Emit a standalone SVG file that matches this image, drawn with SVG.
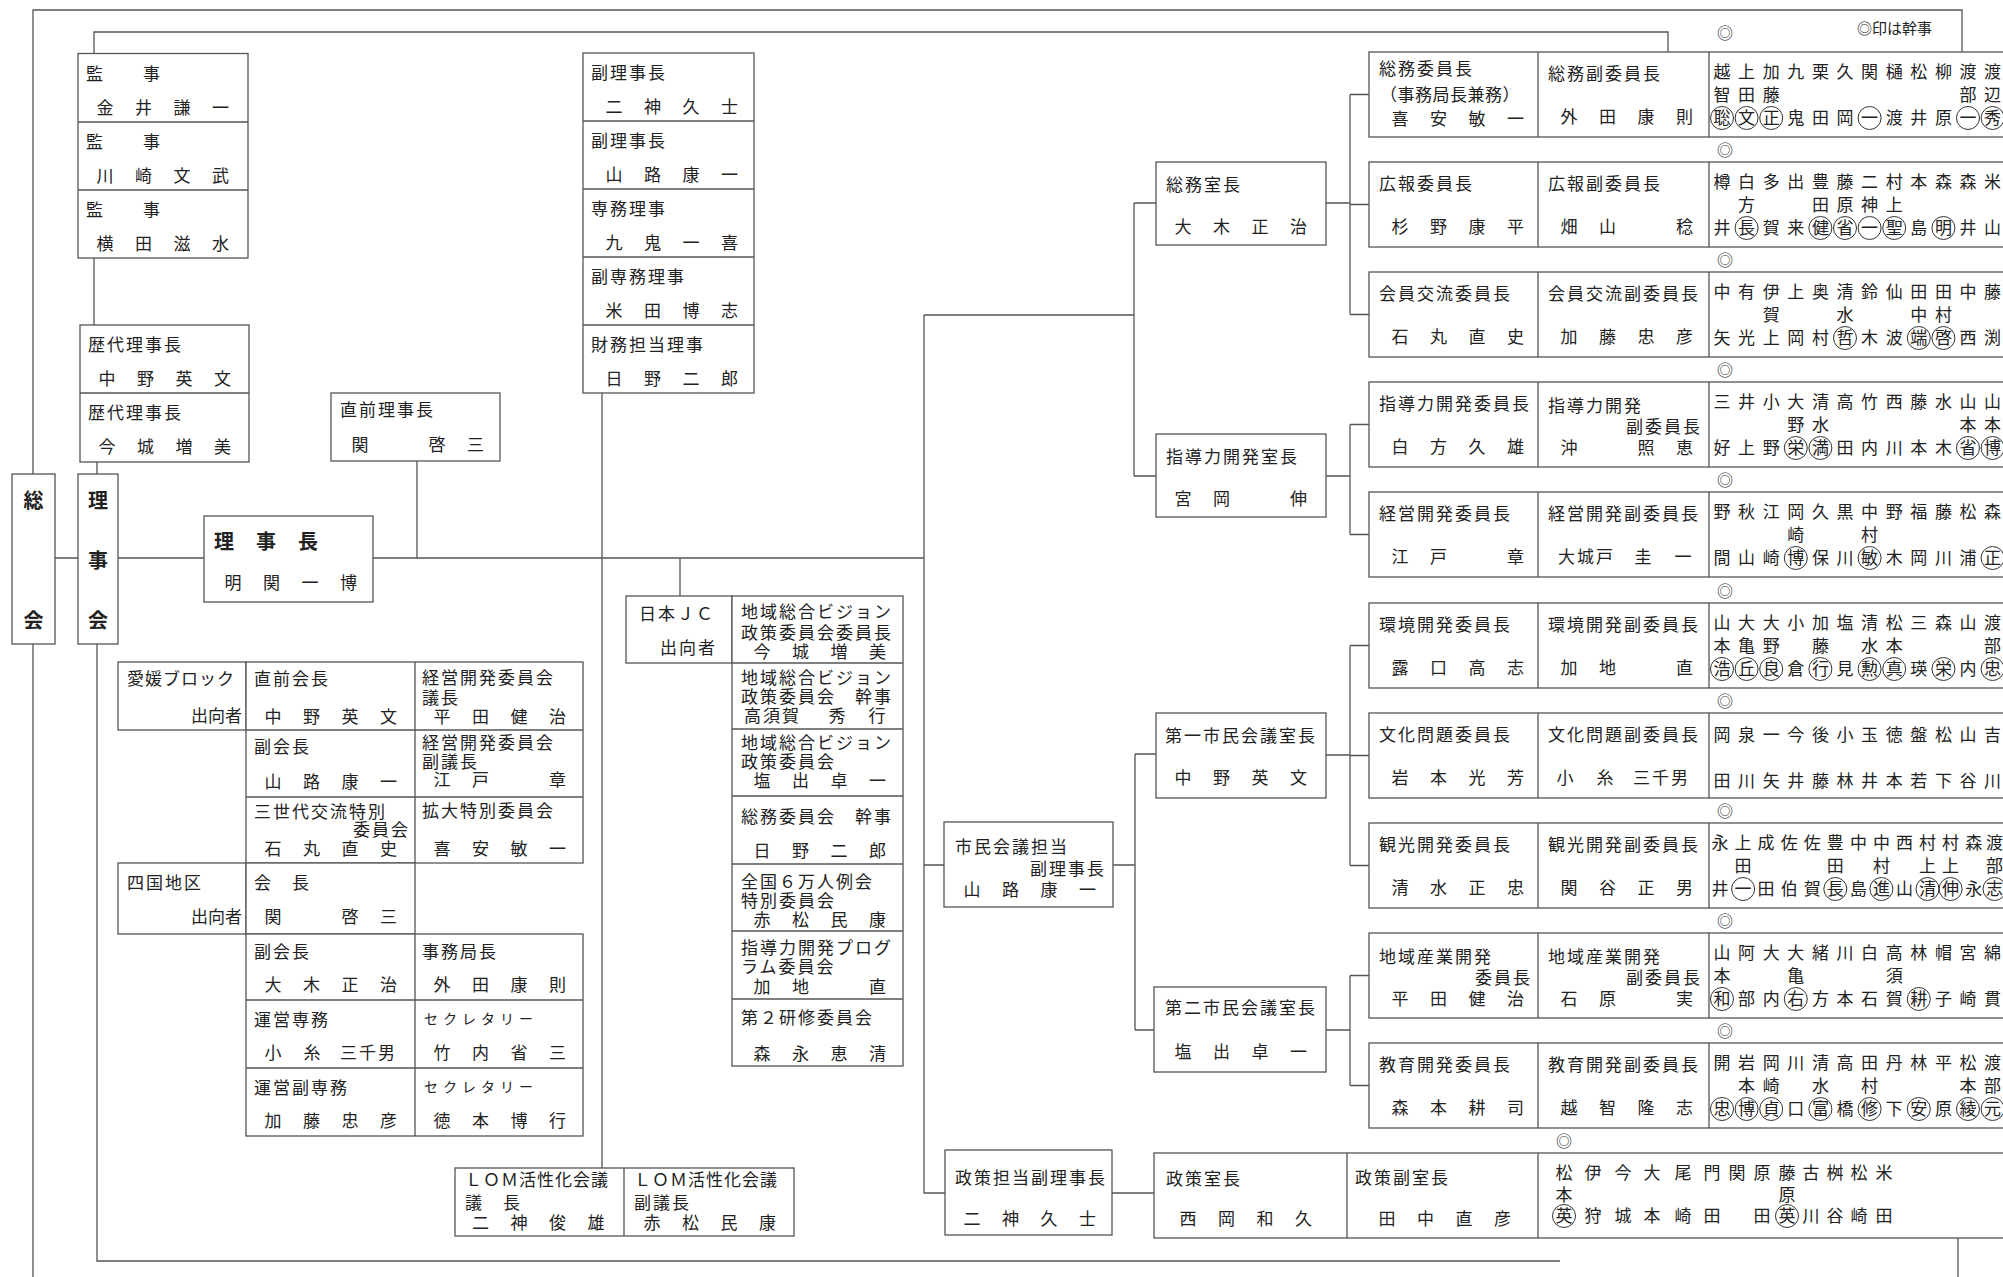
<svg xmlns="http://www.w3.org/2000/svg" xmlns:xlink="http://www.w3.org/1999/xlink" width="2003" height="1277" viewBox="0 0 2003 1277">
<style>
text{font-family:"Noto Sans CJK JP","Noto Sans CJK SC",sans-serif;font-size:17px;fill:#222}
.box{fill:#fff;stroke:#555;stroke-width:1.3}
.ln{fill:none;stroke:#555;stroke-width:1.3}
.lb{letter-spacing:2px}
.nm{letter-spacing:21.5px}
.big{font-size:20px;font-weight:bold}
.sm{font-size:14px;letter-spacing:5px}
.cir{fill:none;stroke:#333;stroke-width:1}
.mk{font-size:16px;text-anchor:middle}
.end{text-anchor:end}
</style>
<defs>
<ellipse id="c" cx="0" cy="0" rx="11.5" ry="11.5" class="cir"/>
</defs>
<rect width="2003" height="1277" fill="#fff"/>

<g id="connectors">
<path class="ln" d="M33 474V10H1962V52"/>
<path class="ln" d="M33 644V1277"/>
<path class="ln" d="M94 53.5V32H1668V52"/>
<path class="ln" d="M94 258V325"/>
<path class="ln" d="M97 462V474"/>
<path class="ln" d="M97 644V1261H1560"/>
<path class="ln" d="M55 558H78M118 558H204M373 558H924"/>
<path class="ln" d="M417 461V558"/>
<path class="ln" d="M602 393V1168"/>
<path class="ln" d="M680 558V596"/>
<path class="ln" d="M924 315V1193H945M924 865H944M924 315H1134"/>
<path class="ln" d="M1134 203V476M1134 203H1156M1134 476H1156"/>
<path class="ln" d="M1113 865H1135M1135 754V1030M1135 754H1156M1135 1030H1154"/>
<path class="ln" d="M1112 1193H1154"/>
<path class="ln" d="M1326 203H1350M1350 94.5V314.5M1350 94.5H1369M1350 204.5H1369M1350 314.5H1369"/>
<path class="ln" d="M1326 476H1350M1350 424.5V534.5M1350 424.5H1369M1350 534.5H1369"/>
<path class="ln" d="M1326 755H1350M1350 645.5V865.5M1350 645.5H1369M1350 755.5H1369M1350 865.5H1369"/>
<path class="ln" d="M1326 1030H1350M1350 975.5V1085.5M1350 975.5H1369M1350 1085.5H1369"/>
<path class="ln" d="M1958 1238V1277"/>
</g>

<g id="kanji">
<rect class="box" x="78" y="53.5" width="170" height="204.5"/>
<path class="ln" d="M78 122H248M78 190H248"/>
<text class="lb" x="86" y="79.5">監　　事</text>
<text class="nm" x="96.5" y="113.5">金井謙一</text>
<text class="lb" x="86" y="148">監　　事</text>
<text class="nm" x="96.5" y="182">川崎文武</text>
<text class="lb" x="86" y="216">監　　事</text>
<text class="nm" x="96.5" y="250">横田滋水</text>
</g>

<g id="rekidai">
<rect class="box" x="80" y="325" width="169" height="137"/>
<path class="ln" d="M80 393H249"/>
<text class="lb" x="88" y="351">歴代理事長</text>
<text class="nm" x="98.5" y="385">中野英文</text>
<text class="lb" x="88" y="419">歴代理事長</text>
<text class="nm" x="98.5" y="453">今城増美</text>
</g>

<g id="chokuzen">
<rect class="box" x="331" y="393" width="169" height="68"/>
<text class="lb" x="340" y="416">直前理事長</text>
<text class="nm" x="351.5" y="451">関　啓三</text>
</g>

<g id="sokai">
<rect class="box" x="12" y="474" width="43" height="170"/>
<text class="big" x="33.5" y="508" text-anchor="middle">総</text>
<text class="big" x="33.5" y="628" text-anchor="middle">会</text>
</g>

<g id="rijikai">
<rect class="box" x="78" y="474" width="40" height="170"/>
<text class="big" x="98" y="508" text-anchor="middle">理</text>
<text class="big" x="98" y="568" text-anchor="middle">事</text>
<text class="big" x="98" y="628" text-anchor="middle">会</text>
</g>

<g id="rijicho">
<rect class="box" x="204" y="516" width="169" height="86"/>
<text class="big" x="214 256 298" y="549">理事長</text>
<text class="nm" x="224.5" y="589">明関一博</text>
</g>

<g id="fukuriji">
<rect class="box" x="583" y="53" width="171" height="340"/>
<path class="ln" d="M583 121H754M583 189H754M583 257H754M583 325H754"/>
<text class="lb" x="591" y="79">副理事長</text>
<text class="nm" x="605.5" y="113">二神久士</text>
<text class="lb" x="591" y="147">副理事長</text>
<text class="nm" x="605.5" y="181">山路康一</text>
<text class="lb" x="591" y="215">専務理事</text>
<text class="nm" x="605.5" y="249">九鬼一喜</text>
<text class="lb" x="591" y="283">副専務理事</text>
<text class="nm" x="605.5" y="317">米田博志</text>
<text class="lb" x="591" y="351">財務担当理事</text>
<text class="nm" x="605.5" y="385">日野二郎</text>
</g>

<g id="nihonjc">
<rect class="box" x="626" y="596" width="106" height="67"/>
<text class="lb" x="639" y="620">日本ＪＣ</text>
<text class="lb" x="660" y="654">出向者</text>
<rect class="box" x="732" y="596" width="171" height="470"/>
<path class="ln" d="M732 663H903M732 729H903M732 796H903M732 864H903M732 931H903M732 999H903"/>
<text class="lb" x="741" y="618">地域総合ビジョン</text>
<text class="lb" x="741" y="639">政策委員会委員長</text>
<text class="nm" x="753.5" y="658">今城増美</text>
<text class="lb" x="741" y="684">地域総合ビジョン</text>
<text class="lb" x="741" y="703">政策委員会　幹事</text>
<text y="722"><tspan class="lb" x="744">高須賀</tspan><tspan x="828.5">秀</tspan><tspan x="868.5">行</tspan></text>
<text class="lb" x="741" y="749">地域総合ビジョン</text>
<text class="lb" x="741" y="768">政策委員会</text>
<text class="nm" x="753.5" y="787">塩出卓一</text>
<text class="lb" x="741" y="823">総務委員会　幹事</text>
<text class="nm" x="753.5" y="857">日野二郎</text>
<text class="lb" x="741" y="888">全国６万人例会</text>
<text class="lb" x="741" y="907">特別委員会</text>
<text class="nm" x="753.5" y="926">赤松民康</text>
<text class="lb" x="741" y="954">指導力開発プログ</text>
<text class="lb" x="741" y="973">ラム委員会</text>
<text class="nm" x="753.5" y="993">加地　直</text>
<text class="lb" x="741" y="1024">第２研修委員会</text>
<text class="nm" x="753.5" y="1060">森永恵清</text>
</g>

<g id="ehime">
<rect class="box" x="118" y="662" width="128" height="68"/>
<rect class="box" x="246" y="662" width="337" height="201"/>
<path class="ln" d="M415 662V863M246 730H583M246 797H583"/>
<rect class="box" x="118" y="863" width="128" height="71"/>
<rect class="box" x="246" y="863" width="169" height="71"/>
<rect class="box" x="246" y="934" width="337" height="202"/>
<path class="ln" d="M415 934V1136M246 1000H583M246 1068H583"/>
<text style="letter-spacing:1px" x="127" y="685">愛媛ブロック</text>
<text class="end" x="242" y="722">出向者</text>
<text class="lb" x="254" y="685">直前会長</text>
<text class="nm" x="264.5" y="723">中野英文</text>
<text class="lb" x="422" y="684">経営開発委員会</text>
<text class="lb" x="422" y="704">議長</text>
<text class="nm" x="433.5" y="723">平田健治</text>
<text class="lb" x="254" y="753">副会長</text>
<text class="nm" x="264.5" y="788">山路康一</text>
<text class="lb" x="422" y="749">経営開発委員会</text>
<text class="lb" x="422" y="768">副議長</text>
<text class="nm" x="433.5" y="786">江戸　章</text>
<text class="lb" x="254" y="818">三世代交流特別</text>
<text x="353 372 391" y="836">委員会</text>
<text class="nm" x="264.5" y="855">石丸直史</text>
<text class="lb" x="422" y="817">拡大特別委員会</text>
<text class="nm" x="433.5" y="855">喜安敏一</text>
<text class="lb" x="127" y="889">四国地区</text>
<text class="end" x="242" y="923">出向者</text>
<text class="lb" x="254" y="889">会　長</text>
<text class="nm" x="264.5" y="923">関　啓三</text>
<text class="lb" x="254" y="958">副会長</text>
<text class="nm" x="264.5" y="991">大木正治</text>
<text class="lb" x="422" y="958">事務局長</text>
<text class="nm" x="433.5" y="991">外田康則</text>
<text class="lb" x="254" y="1026">運営専務</text>
<text y="1059"><tspan x="264.5">小</tspan><tspan x="303.5">糸</tspan><tspan class="lb" x="340">三千男</tspan></text>
<text class="sm" x="424" y="1024">セクレタリー</text>
<text class="nm" x="433.5" y="1059">竹内省三</text>
<text class="lb" x="254" y="1094">運営副専務</text>
<text class="nm" x="264.5" y="1127">加藤忠彦</text>
<text class="sm" x="424" y="1092">セクレタリー</text>
<text class="nm" x="433.5" y="1127">徳本博行</text>
</g>

<g id="lom">
<rect class="box" x="455" y="1168" width="339" height="68"/>
<path class="ln" d="M624 1168V1236"/>
<text style="letter-spacing:1px" x="465" y="1186">ＬＯＭ活性化会議</text>
<text class="lb" x="465" y="1209">議　長</text>
<text class="nm" x="472" y="1229">二神俊雄</text>
<text style="letter-spacing:1px" x="634" y="1186">ＬＯＭ活性化会議</text>
<text class="lb" x="634" y="1209">副議長</text>
<text class="nm" x="643.5" y="1229">赤松民康</text>
</g>

<g id="shimin-fuku">
<rect class="box" x="944" y="822" width="169" height="85"/>
<text class="lb" x="955" y="853">市民会議担当</text>
<text x="1030 1049 1068 1087" y="875">副理事長</text>
<text class="nm" x="963.5" y="896">山路康一</text>
</g>

<g id="seisaku-fuku">
<rect class="box" x="945" y="1150" width="167" height="85"/>
<text class="lb" x="955" y="1184">政策担当副理事長</text>
<text class="nm" x="963.5" y="1225">二神久士</text>
</g>

<g id="somu-shitsu">
<rect class="box" x="1156" y="162" width="170" height="83"/>
<text class="lb" x="1166" y="191">総務室長</text>
<text class="nm" x="1174.5" y="233">大木正治</text>
</g>

<g id="shido-shitsu">
<rect class="box" x="1156" y="434" width="170" height="83"/>
<text class="lb" x="1166" y="463">指導力開発室長</text>
<text class="nm" x="1174.5" y="505">宮岡　伸</text>
</g>

<g id="daiichi">
<rect class="box" x="1156" y="713" width="170" height="85"/>
<text class="lb" x="1165" y="742">第一市民会議室長</text>
<text class="nm" x="1174.5" y="784">中野英文</text>
</g>

<g id="daini">
<rect class="box" x="1154" y="987" width="172" height="85"/>
<text class="lb" x="1165" y="1014">第二市民会議室長</text>
<text class="nm" x="1174.5" y="1058">塩出卓一</text>
</g>

<g id="note">
<text x="1857" y="34" style="font-size:15px">◎印は幹事</text>
</g>

<g id="iinkai-somu">
<rect class="box" x="1369" y="52" width="650" height="85"/>
<path class="ln" d="M1538 52V137M1709 52V137"/>
<text class="lb" x="1379" y="75">総務委員長</text>
<text style="letter-spacing:0.5px" x="1380" y="101">（事務局長兼務）</text>
<text class="nm" x="1391.5" y="125">喜安敏一</text>
<text class="lb" x="1548" y="80">総務副委員長</text>
<text class="nm" x="1560.5" y="123">外田康則</text>
<text class="mk" x="1725" y="39">◎</text>
<text x="1713.5 1738.1 1762.7 1787.3 1811.9 1836.5 1861.1 1885.7 1910.3 1934.9 1959.5 1984.1" y="78">越上加九栗久関樋松柳渡渡</text>
<text x="1713.5 1738.1 1762.7 1959.5 1984.1" y="101">智田藤部辺</text>
<text x="1713.5 1738.1 1762.7 1787.3 1811.9 1836.5 1861.1 1885.7 1910.3 1934.9 1959.5 1984.1" y="124">聡文正鬼田岡一渡井原一秀</text>
<use href="#c" x="1722" y="118"/><use href="#c" x="1746.6" y="118"/><use href="#c" x="1771.2" y="118"/><use href="#c" x="1869.6" y="118"/><use href="#c" x="1968" y="118"/><use href="#c" x="1992.6" y="118"/>
</g>

<g id="iinkai-koho">
<rect class="box" x="1369" y="162" width="650" height="85"/>
<path class="ln" d="M1538 162V247M1709 162V247"/>
<text class="lb" x="1379" y="190">広報委員長</text>
<text class="nm" x="1391.5" y="233">杉野康平</text>
<text class="lb" x="1548" y="190">広報副委員長</text>
<text class="nm" x="1560.5" y="233">畑山　稔</text>
<text class="mk" x="1725" y="156">◎</text>
<text x="1713.5 1738.1 1762.7 1787.3 1811.9 1836.5 1861.1 1885.7 1910.3 1934.9 1959.5 1984.1" y="188">樽白多出豊藤二村本森森米</text>
<text x="1738.1 1811.9 1836.5 1861.1 1885.7" y="211">方田原神上</text>
<text x="1713.5 1738.1 1762.7 1787.3 1811.9 1836.5 1861.1 1885.7 1910.3 1934.9 1959.5 1984.1" y="234">井長賀来健省一聖島明井山</text>
<use href="#c" x="1746.6" y="228"/><use href="#c" x="1820.4" y="228"/><use href="#c" x="1845" y="228"/><use href="#c" x="1869.6" y="228"/><use href="#c" x="1894.2" y="228"/><use href="#c" x="1943.4" y="228"/>
</g>

<g id="iinkai-kaiin">
<rect class="box" x="1369" y="272" width="650" height="85"/>
<path class="ln" d="M1538 272V357M1709 272V357"/>
<text class="lb" x="1379" y="300">会員交流委員長</text>
<text class="nm" x="1391.5" y="343">石丸直史</text>
<text class="lb" x="1548" y="300">会員交流副委員長</text>
<text class="nm" x="1560.5" y="343">加藤忠彦</text>
<text class="mk" x="1725" y="266">◎</text>
<text x="1713.5 1738.1 1762.7 1787.3 1811.9 1836.5 1861.1 1885.7 1910.3 1934.9 1959.5 1984.1" y="298">中有伊上奥清鈴仙田田中藤</text>
<text x="1762.7 1836.5 1910.3 1934.9" y="321">賀水中村</text>
<text x="1713.5 1738.1 1762.7 1787.3 1811.9 1836.5 1861.1 1885.7 1910.3 1934.9 1959.5 1984.1" y="344">矢光上岡村哲木波端啓西渕</text>
<use href="#c" x="1845" y="338"/><use href="#c" x="1918.8" y="338"/><use href="#c" x="1943.4" y="338"/>
</g>

<g id="iinkai-shido">
<rect class="box" x="1369" y="382" width="650" height="85"/>
<path class="ln" d="M1538 382V467M1709 382V467"/>
<text class="lb" x="1379" y="410">指導力開発委員長</text>
<text class="nm" x="1391.5" y="453">白方久雄</text>
<text class="lb" x="1548" y="412">指導力開発</text>
<text x="1626 1645 1664 1683" y="433">副委員長</text>
<text class="nm" x="1560.5" y="454">沖　照恵</text>
<text class="mk" x="1725" y="376">◎</text>
<text x="1713.5 1738.1 1762.7 1787.3 1811.9 1836.5 1861.1 1885.7 1910.3 1934.9 1959.5 1984.1" y="408">三井小大清高竹西藤水山山</text>
<text x="1787.3 1811.9 1959.5 1984.1" y="431">野水本本</text>
<text x="1713.5 1738.1 1762.7 1787.3 1811.9 1836.5 1861.1 1885.7 1910.3 1934.9 1959.5 1984.1" y="454">好上野栄満田内川本木省博</text>
<use href="#c" x="1795.8" y="448"/><use href="#c" x="1820.4" y="448"/><use href="#c" x="1968" y="448"/><use href="#c" x="1992.6" y="448"/>
</g>

<g id="iinkai-keiei">
<rect class="box" x="1369" y="492" width="650" height="85"/>
<path class="ln" d="M1538 492V577M1709 492V577"/>
<text class="lb" x="1379" y="520">経営開発委員長</text>
<text class="nm" x="1391.5" y="563">江戸　章</text>
<text class="lb" x="1548" y="520">経営開発副委員長</text>
<text y="563"><tspan class="lb" x="1558">大城戸</tspan><tspan x="1634.5">圭</tspan><tspan x="1674.5">一</tspan></text>
<text class="mk" x="1725" y="486">◎</text>
<text x="1713.5 1738.1 1762.7 1787.3 1811.9 1836.5 1861.1 1885.7 1910.3 1934.9 1959.5 1984.1" y="518">野秋江岡久黒中野福藤松森</text>
<text x="1787.3 1861.1" y="541">崎村</text>
<text x="1713.5 1738.1 1762.7 1787.3 1811.9 1836.5 1861.1 1885.7 1910.3 1934.9 1959.5 1984.1" y="564">間山崎博保川敏木岡川浦正</text>
<use href="#c" x="1795.8" y="558"/><use href="#c" x="1869.6" y="558"/><use href="#c" x="1992.6" y="558"/>
</g>

<g id="iinkai-kankyo">
<rect class="box" x="1369" y="603" width="650" height="85"/>
<path class="ln" d="M1538 603V688M1709 603V688"/>
<text class="lb" x="1379" y="631">環境開発委員長</text>
<text class="nm" x="1391.5" y="674">露口高志</text>
<text class="lb" x="1548" y="631">環境開発副委員長</text>
<text class="nm" x="1560.5" y="674">加地　直</text>
<text class="mk" x="1725" y="597">◎</text>
<text x="1713.5 1738.1 1762.7 1787.3 1811.9 1836.5 1861.1 1885.7 1910.3 1934.9 1959.5 1984.1" y="629">山大大小加塩清松三森山渡</text>
<text x="1713.5 1738.1 1762.7 1811.9 1861.1 1885.7 1984.1" y="652">本亀野藤水本部</text>
<text x="1713.5 1738.1 1762.7 1787.3 1811.9 1836.5 1861.1 1885.7 1910.3 1934.9 1959.5 1984.1" y="675">浩丘良倉行見勲真瑛栄内忠</text>
<use href="#c" x="1722" y="669"/><use href="#c" x="1746.6" y="669"/><use href="#c" x="1771.2" y="669"/><use href="#c" x="1820.4" y="669"/><use href="#c" x="1869.6" y="669"/><use href="#c" x="1894.2" y="669"/><use href="#c" x="1943.4" y="669"/><use href="#c" x="1992.6" y="669"/>
</g>

<g id="iinkai-bunka">
<rect class="box" x="1369" y="713" width="650" height="85"/>
<path class="ln" d="M1538 713V798M1709 713V798"/>
<text class="lb" x="1379" y="741">文化問題委員長</text>
<text class="nm" x="1391.5" y="784">岩本光芳</text>
<text class="lb" x="1548" y="741">文化問題副委員長</text>
<text y="784"><tspan x="1556.5">小</tspan><tspan x="1596.5">糸</tspan><tspan class="lb" x="1633">三千男</tspan></text>
<text class="mk" x="1725" y="707">◎</text>
<text x="1713.5 1738.1 1762.7 1787.3 1811.9 1836.5 1861.1 1885.7 1910.3 1934.9 1959.5 1984.1" y="741">岡泉一今後小玉徳盤松山吉</text>
<text x="1713.5 1738.1 1762.7 1787.3 1811.9 1836.5 1861.1 1885.7 1910.3 1934.9 1959.5 1984.1" y="787">田川矢井藤林井本若下谷川</text>
</g>

<g id="iinkai-kanko">
<rect class="box" x="1369" y="823" width="650" height="85"/>
<path class="ln" d="M1538 823V908M1709 823V908"/>
<text class="lb" x="1379" y="851">観光開発委員長</text>
<text class="nm" x="1391.5" y="894">清水正忠</text>
<text class="lb" x="1548" y="851">観光開発副委員長</text>
<text class="nm" x="1560.5" y="894">関谷正男</text>
<text class="mk" x="1725" y="817">◎</text>
<text x="1711.5 1734.6 1757.6 1780.7 1803.7 1826.8 1849.9 1872.9 1896 1919 1942.1 1965.2 1986" y="849">永上成佐佐豊中中西村村森渡</text>
<text x="1734.6 1826.8 1872.9 1919 1942.1 1986" y="872">田田村上上部</text>
<text x="1711.5 1734.6 1757.6 1780.7 1803.7 1826.8 1849.9 1872.9 1896 1919 1942.1 1965.2 1986" y="895">井一田伯賀長島進山清伸永志</text>
<use href="#c" x="1743.1" y="889"/><use href="#c" x="1835.3" y="889"/><use href="#c" x="1881.4" y="889"/><use href="#c" x="1927.5" y="889"/><use href="#c" x="1950.6" y="889"/><use href="#c" x="1994.5" y="889"/>
</g>

<g id="iinkai-chiiki">
<rect class="box" x="1369" y="933" width="650" height="85"/>
<path class="ln" d="M1538 933V1018M1709 933V1018"/>
<text class="lb" x="1379" y="963">地域産業開発</text>
<text x="1475 1494 1513" y="984">委員長</text>
<text class="nm" x="1391.5" y="1005">平田健治</text>
<text class="lb" x="1548" y="963">地域産業開発</text>
<text x="1626 1645 1664 1683" y="984">副委員長</text>
<text class="nm" x="1560.5" y="1005">石原　実</text>
<text class="mk" x="1725" y="927">◎</text>
<text x="1713.5 1738.1 1762.7 1787.3 1811.9 1836.5 1861.1 1885.7 1910.3 1934.9 1959.5 1984.1" y="959">山阿大大緒川白高林帽宮綿</text>
<text x="1713.5 1787.3 1885.7" y="982">本亀須</text>
<text x="1713.5 1738.1 1762.7 1787.3 1811.9 1836.5 1861.1 1885.7 1910.3 1934.9 1959.5 1984.1" y="1005">和部内右方本石賀耕子崎貫</text>
<use href="#c" x="1722" y="999"/><use href="#c" x="1795.8" y="999"/><use href="#c" x="1918.8" y="999"/>
</g>

<g id="iinkai-kyoiku">
<rect class="box" x="1369" y="1043" width="650" height="85"/>
<path class="ln" d="M1538 1043V1128M1709 1043V1128"/>
<text class="lb" x="1379" y="1071">教育開発委員長</text>
<text class="nm" x="1391.5" y="1114">森本耕司</text>
<text class="lb" x="1548" y="1071">教育開発副委員長</text>
<text class="nm" x="1560.5" y="1114">越智隆志</text>
<text class="mk" x="1725" y="1037">◎</text>
<text x="1713.5 1738.1 1762.7 1787.3 1811.9 1836.5 1861.1 1885.7 1910.3 1934.9 1959.5 1984.1" y="1069">開岩岡川清高田丹林平松渡</text>
<text x="1738.1 1762.7 1811.9 1861.1 1959.5 1984.1" y="1092">本崎水村本部</text>
<text x="1713.5 1738.1 1762.7 1787.3 1811.9 1836.5 1861.1 1885.7 1910.3 1934.9 1959.5 1984.1" y="1115">忠博貞口富橋修下安原綾元</text>
<use href="#c" x="1722" y="1109"/><use href="#c" x="1746.6" y="1109"/><use href="#c" x="1771.2" y="1109"/><use href="#c" x="1820.4" y="1109"/><use href="#c" x="1869.6" y="1109"/><use href="#c" x="1918.8" y="1109"/><use href="#c" x="1968" y="1109"/><use href="#c" x="1992.6" y="1109"/>
</g>

<g id="seisaku">
<rect class="box" x="1154" y="1153" width="865" height="85"/>
<path class="ln" d="M1347 1153V1238M1538 1153V1238"/>
<text class="lb" x="1166" y="1185">政策室長</text>
<text class="nm" x="1179.5" y="1225">西岡和久</text>
<text class="lb" x="1355" y="1184">政策副室長</text>
<text class="nm" x="1378.5" y="1225">田中直彦</text>
<text class="mk" x="1564" y="1147">◎</text>
<text x="1555.5 1584.5 1614.5 1643.5 1674.5 1703.5 1728.5 1753.5 1778.5 1802.5 1826.5 1850.5 1875.5" y="1179">松伊今大尾門関原藤古桝松米</text>
<text x="1555.5 1778.5" y="1201">本原</text>
<text x="1555.5 1584.5 1614.5 1643.5 1674.5 1703.5 1753.5 1778.5 1802.5 1826.5 1850.5 1875.5" y="1222">英狩城本崎田田英川谷崎田</text>
<use href="#c" x="1564" y="1216"/><use href="#c" x="1787" y="1216"/>
</g>
</svg>
